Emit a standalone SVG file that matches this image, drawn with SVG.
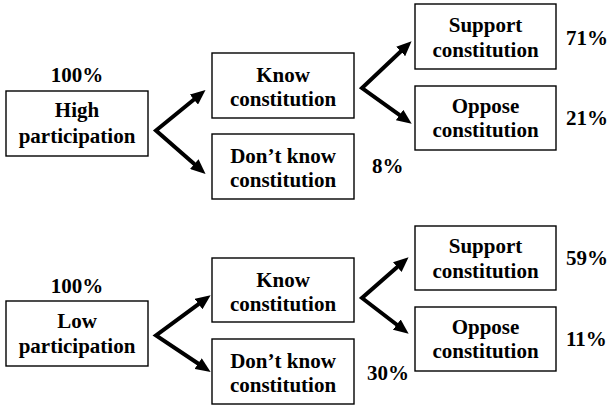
<svg xmlns="http://www.w3.org/2000/svg" width="608" height="406" viewBox="0 0 608 406">
<style>
.box{fill:#fff;stroke:#000;stroke-width:1.4}
text{font-family:Liberation Serif,serif;font-weight:bold;font-size:21px;fill:#000}
.c{text-anchor:middle}
.arr{fill:none;stroke:#000;stroke-width:4;stroke-linejoin:miter;marker-start:url(#ah);marker-end:url(#ah)}
</style>
<defs>
<marker id="ah" markerUnits="userSpaceOnUse" markerWidth="15" markerHeight="13" refX="8" refY="6.5" orient="auto-start-reverse" viewBox="0 0 15 13">
<path d="M0,0 L15,6.5 L0,13 z" fill="#000"/>
</marker>
</defs>
<rect width="608" height="406" fill="#fff"/>
<g id="connectors">
<path class="arr" d="M200.1,94.5 L156,130.5 L200.3,169.3"/>
<path class="arr" d="M406.5,46 L362,88 L406,119.7"/>
<path class="arr" d="M205,299.3 L156,335.5 L204.8,368"/>
<path class="arr" d="M403.3,261.8 L362,298 L403.1,329.5"/>
</g>
<g id="high">
<text class="c" x="77" y="82">100%</text>
<rect class="box" x="6" y="91" width="142" height="65"/>
<text class="c" x="77" y="117">High</text>
<text class="c" x="77" y="143">participation</text>
</g>
<g id="know1">
<rect class="box" x="212" y="53" width="142" height="65"/>
<text class="c" x="283" y="82">Know</text>
<text class="c" x="283" y="106">constitution</text>
</g>
<g id="dontknow1">
<rect class="box" x="212" y="134" width="142" height="65"/>
<text class="c" x="283" y="163">Don’t know</text>
<text class="c" x="283" y="187">constitution</text>
<text x="372" y="173">8%</text>
</g>
<g id="support1">
<rect class="box" x="415" y="4" width="141" height="65"/>
<text class="c" x="485.5" y="32">Support</text>
<text class="c" x="485.5" y="57">constitution</text>
<text x="566" y="45">71%</text>
</g>
<g id="oppose1">
<rect class="box" x="415" y="86" width="141" height="64"/>
<text class="c" x="485.5" y="113">Oppose</text>
<text class="c" x="485.5" y="137">constitution</text>
<text x="566" y="125">21%</text>
</g>
<g id="low">
<text class="c" x="77" y="293">100%</text>
<rect class="box" x="6" y="301" width="142" height="65"/>
<text class="c" x="77" y="328">Low</text>
<text class="c" x="77" y="353">participation</text>
</g>
<g id="know2">
<rect class="box" x="212" y="258" width="142" height="64"/>
<text class="c" x="283" y="287">Know</text>
<text class="c" x="283" y="311">constitution</text>
</g>
<g id="dontknow2">
<rect class="box" x="212" y="339" width="142" height="65"/>
<text class="c" x="283" y="368">Don’t know</text>
<text class="c" x="283" y="392">constitution</text>
<text x="367" y="380">30%</text>
</g>
<g id="support2">
<rect class="box" x="415" y="226" width="141" height="64"/>
<text class="c" x="485.5" y="253">Support</text>
<text class="c" x="485.5" y="278">constitution</text>
<text x="566" y="265">59%</text>
</g>
<g id="oppose2">
<rect class="box" x="415" y="307" width="141" height="64"/>
<text class="c" x="485.5" y="334">Oppose</text>
<text class="c" x="485.5" y="358">constitution</text>
<text x="566" y="346">11%</text>
</g>
</svg>
